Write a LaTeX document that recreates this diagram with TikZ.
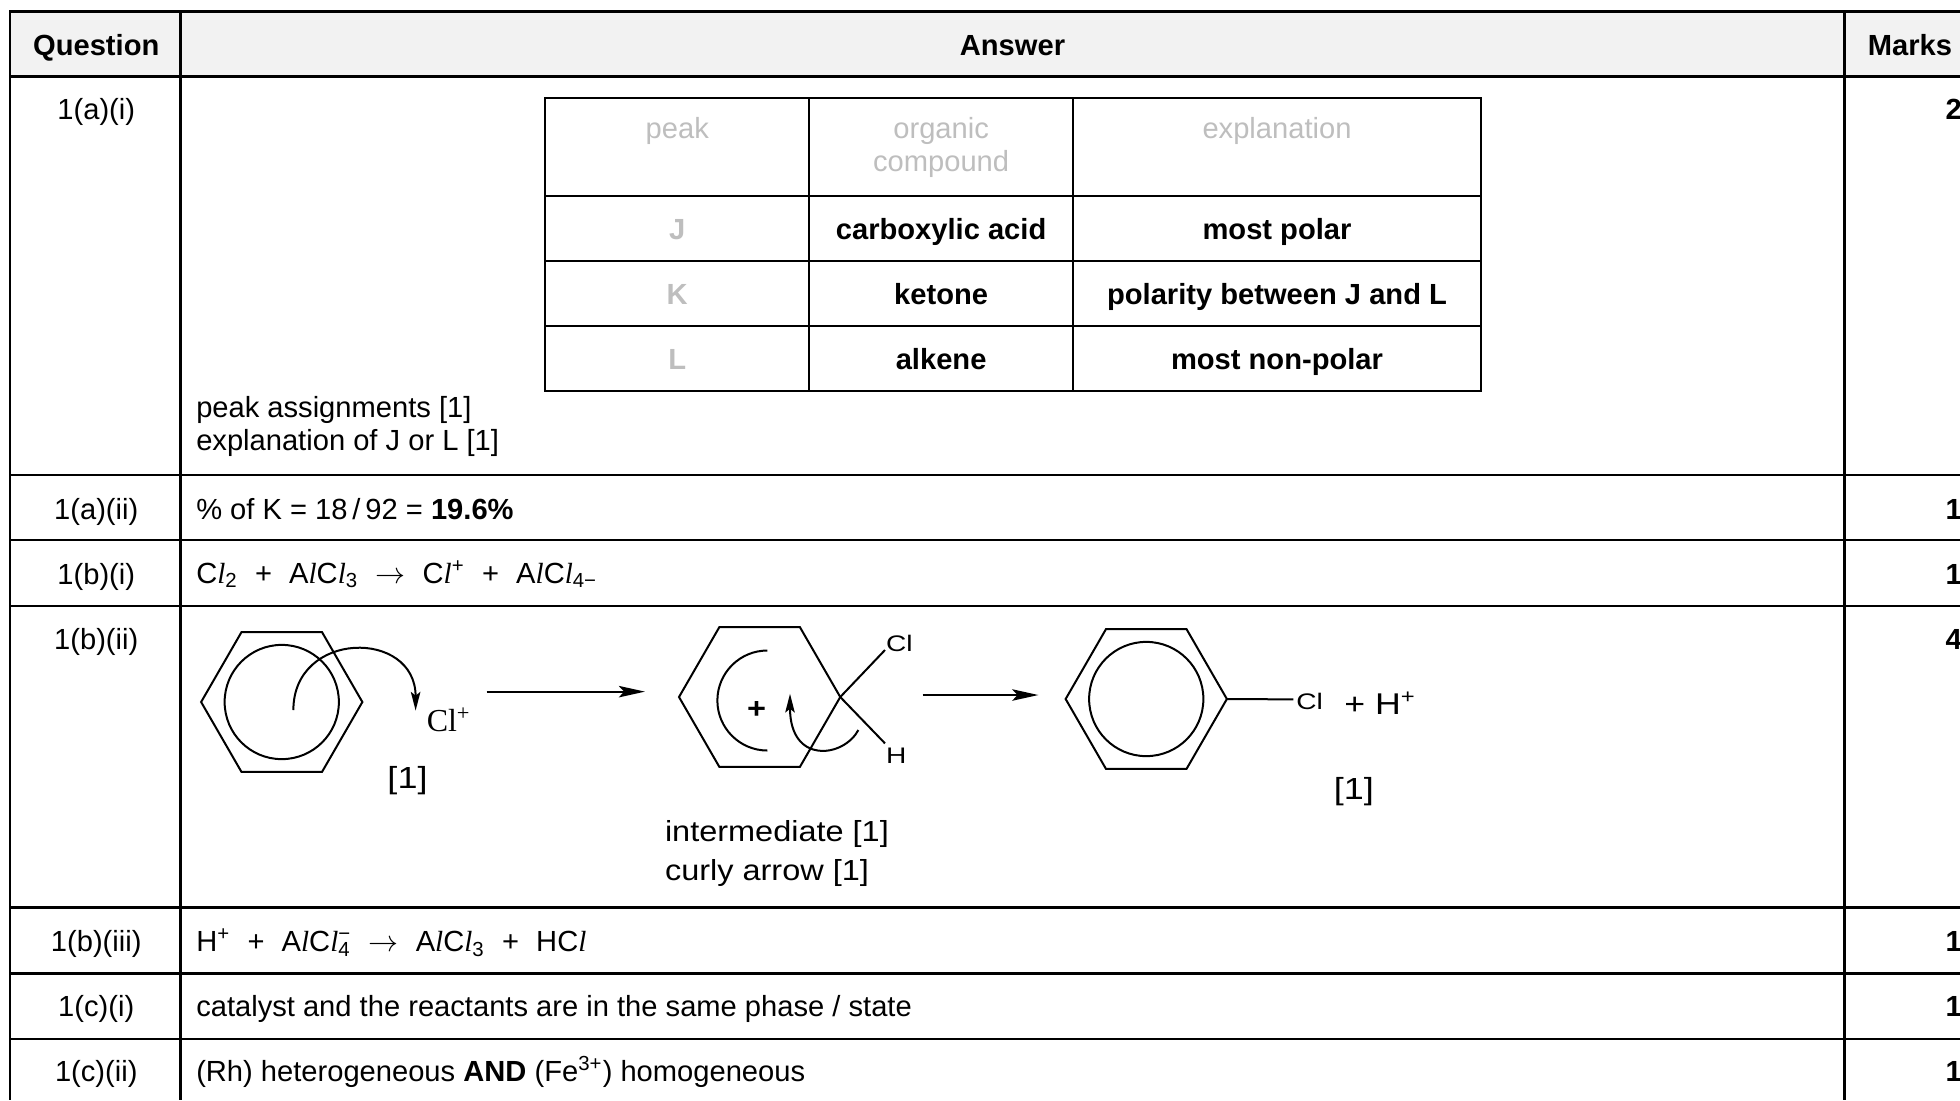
\documentclass[tikz,border=0pt]{standalone}
\usepackage{graphicx}
\usepackage{fontspec}
\setmainfont{Liberation Sans}
\newfontfamily\timesf{Liberation Serif}
\usetikzlibrary{arrows.meta,shapes.geometric}
\definecolor{hdrfill}{RGB}{242,242,242}
\definecolor{ghost}{RGB}{190,190,190}
\newcommand{\mainsz}{\fontsize{11.65}{14}\selectfont}
\newcommand{\mechsz}{\fontsize{11.6}{13}\selectfont}
\newcommand{\bksz}{\fontsize{12.2}{14}\selectfont}
\newcommand{\labsz}{\fontsize{9}{11}\selectfont}
\newcommand{\il}{{\timesf\itshape l}}
\newcommand{\gp}{\hspace{6.85pt}}
\newcommand{\stx}[2]{\scalebox{#1}[1]{#2}}
\begin{document}
\begin{tikzpicture}[x=0.5pt,y=-0.5pt,
  rule/.style={line width=0.95pt},
  inrule/.style={line width=0.8pt},
  bond/.style={line width=0.8pt},
  txt/.style={font=\mainsz, inner sep=0pt, outer sep=0pt},
  btxt/.style={font=\mainsz\bfseries, inner sep=0pt, outer sep=0pt},
  gtxt/.style={font=\mainsz, text=ghost, inner sep=0pt, outer sep=0pt},
  mtxt/.style={font=\mechsz, inner sep=0pt, outer sep=0pt},
  bktxt/.style={font=\bksz, inner sep=0pt, outer sep=0pt},
  ltxt/.style={font=\labsz, inner sep=0pt, outer sep=0pt},
  ring/.style={regular polygon, regular polygon sides=6, draw, line width=0.8pt, minimum size=64.5pt, inner sep=0pt, outer sep=0pt},
  rxn/.style={line width=0.8pt, -{Stealth[length=10.5pt,width=4.6pt,inset=2.2pt]}},
  curly/.style={line width=0.8pt, -{Stealth[length=7.5pt,width=3.8pt,inset=1.5pt]}},
]
\useasboundingbox (0,0) rectangle (1568,880);
\fill[white] (0,0) rectangle (1568,880);
\fill[hdrfill] (8,9.3) rectangle (1568,61.3);
% outer grid
\draw[rule] (1568,9.3) -- (8,9.3) -- (8,880);
\draw[rule] (144.5,9.3) -- (144.5,880);
\draw[rule] (1475.5,9.3) -- (1475.5,880);
\foreach \yy in {61.3,380,432,484.8,726.1,778.7,831.2} \draw[rule] (8,\yy) -- (1568,\yy);
% header
\node[btxt, anchor=base] (hq) at (77,44.5) {Question};
\node[btxt, anchor=base] (ha) at (810,44.5) {Answer};
\node[btxt, anchor=base] (hm) at (1528,44.5) {Marks};
% question labels
\node[txt, anchor=base] (q1) at (77,95.8) {1(a)(i)};
\node[txt, anchor=base] (q2) at (77,415.3) {1(a)(ii)};
\node[txt, anchor=base] (q3) at (77,467.3) {1(b)(i)};
\node[txt, anchor=base] (q4) at (77,519.3) {1(b)(ii)};
\node[txt, anchor=base] (q5) at (77,761.3) {1(b)(iii)};
\node[txt, anchor=base] (q6) at (77,813.3) {1(c)(i)};
\node[txt, anchor=base] (q7) at (77,865.3) {1(c)(ii)};
% marks
\node[btxt, anchor=base] (k1) at (1563,95.8) {2};
\node[btxt, anchor=base] (k2) at (1563,415.3) {1};
\node[btxt, anchor=base] (k3) at (1563,467.3) {1};
\node[btxt, anchor=base] (k4) at (1563,519.3) {4};
\node[btxt, anchor=base] (k5) at (1563,761.3) {1};
\node[btxt, anchor=base] (k6) at (1563,813.3) {1};
\node[btxt, anchor=base] (k7) at (1563,865.3) {1};
% inner table
\draw[inrule] (436,78) rectangle (1185,313);
\foreach \xx in {647.5,858.2} \draw[inrule] (\xx,78) -- (\xx,313);
\foreach \yy in {157,209,261} \draw[inrule] (436,\yy) -- (1185,\yy);
\node[gtxt, anchor=base] (tpk) at (541.8,111) {peak};
\node[gtxt, anchor=base] (toc1) at (752.9,111) {organic};
\node[gtxt, anchor=base] (toc2) at (752.9,137) {compound};
\node[gtxt, anchor=base] (tex) at (1021.6,111) {explanation};
\node[gtxt, font=\mainsz\bfseries, anchor=base] (tJ) at (541.8,191.4) {J};
\node[gtxt, font=\mainsz\bfseries, anchor=base] (tK) at (541.8,243.4) {K};
\node[gtxt, font=\mainsz\bfseries, anchor=base] (tL) at (541.8,295.4) {L};
\node[btxt, anchor=base] (cJ) at (752.9,191.4) {carboxylic acid};
\node[btxt, anchor=base] (cK) at (752.9,243.4) {ketone};
\node[btxt, anchor=base] (cL) at (752.9,295.4) {alkene};
\node[btxt, anchor=base] (eJ) at (1021.6,191.4) {most polar};
\node[btxt, anchor=base] (eK) at (1021.6,243.4) {polarity between J and L};
\node[btxt, anchor=base] (eL) at (1021.6,295.4) {most non-polar};
\node[txt, anchor=base west] (pa1) at (157,333.8) {peak assignments [1]};
\node[txt, anchor=base west] (pa2) at (157,360.4) {explanation of J or L [1]};
% 1(a)(ii)
\node[txt, anchor=base west] (a2) at (157,415.3) {\% of K = 18\,/\,92 = \textbf{19.6\%}};
% 1(b)(i)
\node[txt, anchor=base west] (b1) at (157,466.7) {C\il\textsubscript{2}\gp+\gp A\il C\il\textsubscript{3}\gp$\rightarrow$\gp C\il\textsuperscript{+}\gp+\gp A\il C\il\textsubscript{4−}};
% 1(b)(ii) mechanism
\node[ring] (r1) at (225.4,561.6) {};
\draw[bond] (r1.center) circle[radius=22.85pt];
\coordinate (c1s) at (234.7,568);
\coordinate (c1e) at (332.5,568.5);
\draw[curly] (c1s) .. controls (234.7,504) and (332.5,503) .. (c1e);
\node[anchor=base west, font=\timesf\fontsize{12.8}{14}\selectfont, inner sep=0pt] (clp) at (341,585) {Cl\textsuperscript{+}};
\node[bktxt, anchor=base] (m1) at (326,630.9) {\stx{1.18}{[1]}};
\coordinate (a1s) at (389.3,553.3);
\coordinate (a1e) at (516,553.3);
\draw[rxn] (a1s) -- (a1e);
\node[ring] (r2) at (607.7,557.6) {};
\draw[bond] (613.9,520.4) arc[start angle=90,end angle=270,radius=20pt];
\node[mtxt, font=\mechsz\bfseries, anchor=base] (pl) at (605.3,575) {\stx{1.12}{+}};
\coordinate (cClb) at (708,520);
\coordinate (cHb) at (708,594.7);
\draw[bond] (r2.east) -- (cClb);
\draw[bond] (r2.east) -- (cHb);
\node[ltxt, anchor=base] (lCl) at (719.5,521.4) {\stx{1.25}{Cl}};
\node[ltxt, anchor=base] (lH) at (717,610.4) {\stx{1.25}{H}};
\coordinate (c2s) at (686.7,584);
\coordinate (c2e) at (632,555);
\draw[curly] (c2s) .. controls (675,606) and (632,612) .. (c2e);
\coordinate (a2s) at (738,556);
\coordinate (a2e) at (830.7,556);
\draw[rxn] (a2s) -- (a2e);
\node[ring] (r3) at (917,559.2) {};
\draw[bond] (r3.center) circle[radius=22.85pt];
\coordinate (b3e) at (1034.7,559.5);
\draw[bond] (r3.east) -- (b3e);
\node[ltxt, anchor=base west] (lCl3) at (1037,567.5) {\stx{1.25}{Cl}};
\node[bktxt, font=\fontsize{12}{14}\selectfont, anchor=base west] (hpl) at (1075.5,571.2) {\stx{1.19}{+ H\textsuperscript{+}}};
\node[bktxt, anchor=base] (m3) at (1083,639.5) {\stx{1.18}{[1]}};
\node[mtxt, anchor=base west] (im1) at (532,673.4) {\stx{1.12}{intermediate [1]}};
\node[mtxt, anchor=base west] (im2) at (532,704) {\stx{1.12}{curly arrow [1]}};
% 1(b)(iii)
\node[txt, anchor=base west] (b3) at (157,761.3) {H\textsuperscript{+}\gp+\gp A\il C\il\makebox[0pt][l]{\textsubscript{4}}\textsuperscript{−}\gp$\rightarrow$\gp A\il C\il\textsubscript{3}\gp+\gp HC\il};
% 1(c)
\node[txt, anchor=base west] (c1) at (157,813.3) {catalyst and the reactants are in the same phase / state};
\node[txt, anchor=base west] (c2) at (157,865.3) {(Rh) heterogeneous \textbf{AND} (Fe\textsuperscript{3+}) homogeneous};
\end{tikzpicture}
\end{document}
